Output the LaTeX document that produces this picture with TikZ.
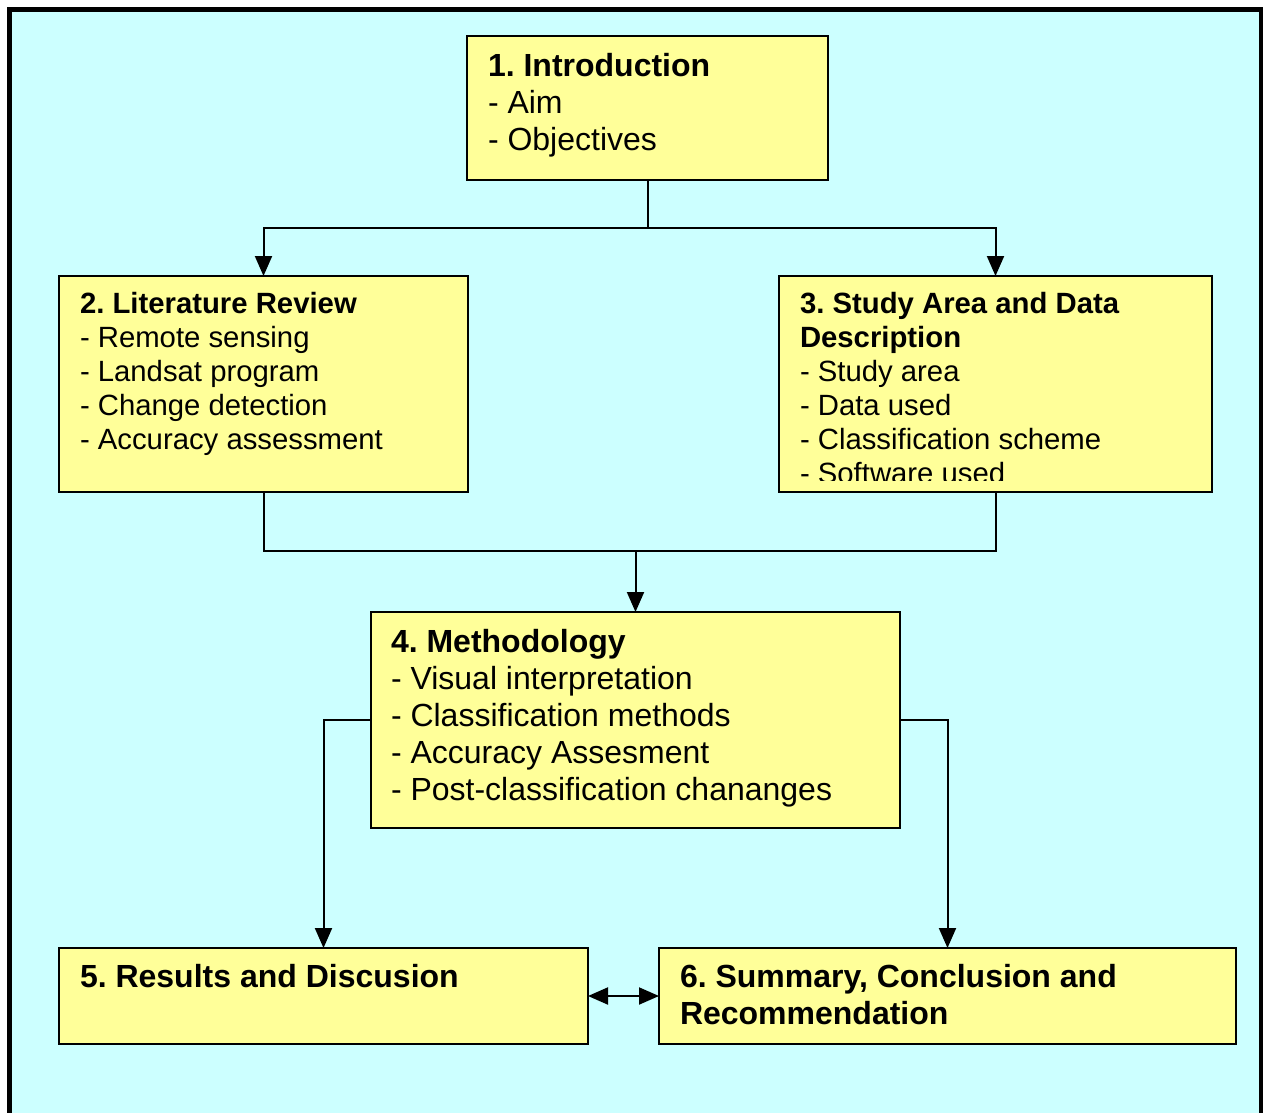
\documentclass[tikz,border=0pt]{standalone}
\usepackage{fontspec}
\setmainfont{Liberation Sans}
\usetikzlibrary{arrows.meta}
\definecolor{bgcyan}{HTML}{CCFFFF}
\definecolor{boxyellow}{HTML}{FFFF99}
\tikzset{
  box/.style={draw=black, line width=1.5pt, fill=boxyellow, inner sep=0pt, outer sep=0pt, anchor=north west},
  txt/.style={anchor=north west, inner sep=0pt, outer sep=0pt, align=left, text=black},
  big/.style={font=\fontsize{32}{37}\selectfont\frenchspacing},
  small/.style={font=\fontsize{29.3}{34}\selectfont\frenchspacing},
  conn/.style={draw=black, line width=2pt},
  arr/.style={conn, -{Triangle[length=20pt,width=17pt]}},
  darr/.style={conn, {Triangle[length=20pt,width=17pt]}-{Triangle[length=20pt,width=17pt]}}
}
\newcommand{\fl}{\rule{0pt}{25pt}}
\begin{document}
\frenchspacing
\begin{tikzpicture}[x=1pt,y=-1pt]
\useasboundingbox (0,0) rectangle (1263,1113);
\fill[white] (0,0) rectangle (1263,1113);
\begin{scope}
\clip (0,0) rectangle (1263,1113);
\draw[line width=4.5pt, fill=bgcyan] (9.5,9.5) rectangle (1261.5,1140);
\end{scope}

% boxes
\node[box, minimum width=361pt, minimum height=144pt] (b1) at (467,36) {};
\node[box, minimum width=409pt, minimum height=216pt] (b2) at (59,276) {};
\node[box, minimum width=433pt, minimum height=216pt] (b3) at (779,276) {};
\node[box, minimum width=529pt, minimum height=216pt] (b4) at (371,612) {};
\node[box, minimum width=529pt, minimum height=96pt] (b5) at (59,948) {};
\node[box, minimum width=577pt, minimum height=96pt] (b6) at (659,948) {};

% texts
\node[txt, big] (t1) at (488,51) {\fl\textbf{1. Introduction}\\- Aim\\- Objectives};
\node[txt, small] (t2) at (80,288) {\fl\textbf{2. Literature Review}\\- Remote sensing\\- Landsat program\\- Change detection\\- Accuracy assessment};
\begin{scope}
\clip (779,276) rectangle (1212,480);
\node[txt, small] (t3) at (800,288) {\fl\textbf{3. Study Area and Data}\\\textbf{Description}\\- Study area\\- Data used\\- Classification scheme\\- Software used};
\end{scope}
\node[txt, big] (t4) at (391,627) {\fl\textbf{4. Methodology}\\- Visual interpretation\\- Classification methods\\- Accuracy Assesment\\- Post-classification chananges};
\node[txt, big] (t5) at (80,962) {\fl\textbf{5. Results and Discusion}};
\node[txt, big] (t6) at (680,962) {\fl\textbf{6. Summary, Conclusion and}\\\textbf{Recommendation}};

% connectors
\coordinate (j1) at (647.5,228);
\coordinate (j2) at (635.5,551);
\draw[conn] (b1.south) -- (j1);
\draw[arr] (j1) -| (b2.north);
\draw[arr] (j1) -| (b3.north);
\draw[conn] (b2.south) |- (j2) -| (b3.south);
\draw[arr] (j2) -- (b4.north);
\draw[arr] (b4.west) -| (b5.north);
\draw[arr] (b4.east) -| (b6.north);
\draw[darr] (b5.east) -- (b6.west);
\end{tikzpicture}
\end{document}
